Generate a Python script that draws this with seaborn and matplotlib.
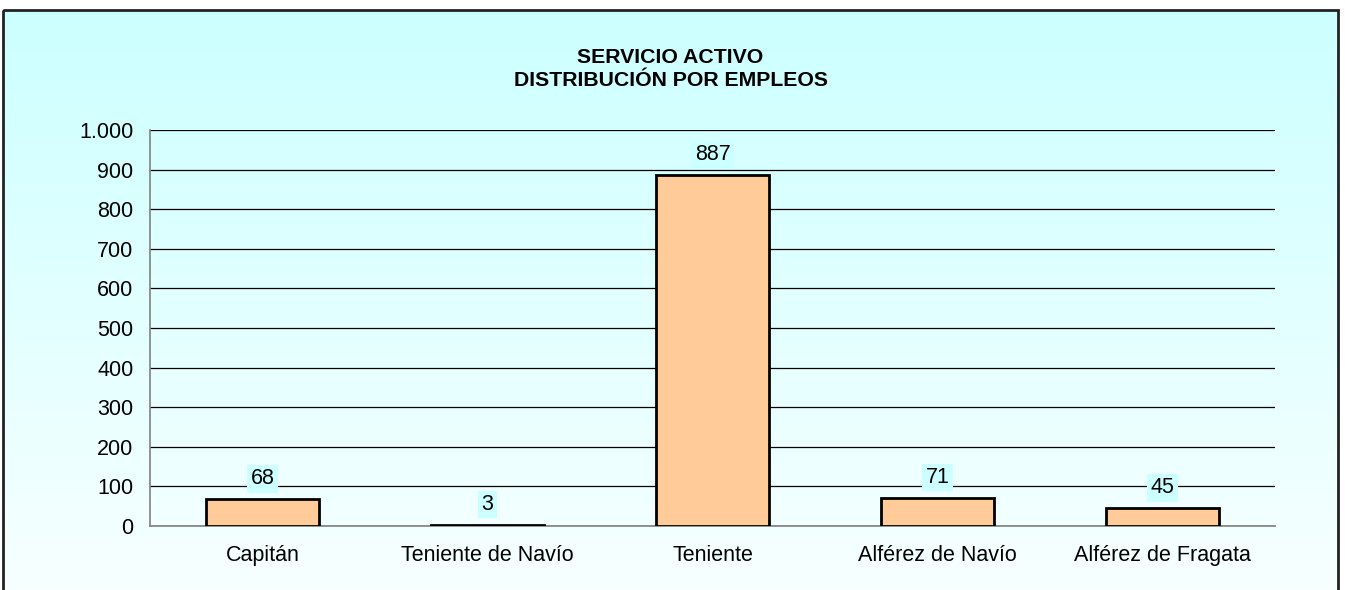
import numpy as np
import pandas as pd
import matplotlib
matplotlib.use("Agg")
import matplotlib.pyplot as plt
from matplotlib.colors import LinearSegmentedColormap
from matplotlib.patches import Rectangle
import seaborn as sns

empleos = ["Capitán", "Teniente de Navío", "Teniente", "Alférez de Navío", "Alférez de Fragata"]
efectivos = [68, 3, 887, 71, 45]
yticks = [0, 100, 200, 300, 400, 500, 600, 700, 800, 900, 1000]
ytick_labels = ["0", "100", "200", "300", "400", "500", "600", "700", "800", "900", "1.000"]

df = pd.DataFrame({"empleo": empleos, "efectivos": efectivos})

sns.set_style("white")
plt.rcParams["font.family"] = ["Liberation Sans", "DejaVu Sans"]
plt.rcParams["text.color"] = "black"
plt.rcParams["xtick.color"] = "black"
plt.rcParams["ytick.color"] = "black"

fig = plt.figure(figsize=(13.45, 5.90), dpi=100)

# gradient background inside the chart border
bg = fig.add_axes([0, 0, 1, 1])
bg.set_xlim(0, 1345)
bg.set_ylim(590, 0)
bg.axis("off")
cmap = LinearSegmentedColormap.from_list("bg", ["#CCFFFF", "#F8FFFF"])
grad = np.linspace(0, 1, 256).reshape(-1, 1)
bg.imshow(grad, cmap=cmap, aspect="auto", extent=[3, 1338, 600, 10], zorder=0)
bg.add_patch(Rectangle((3, 10), 1335, 600, fill=False, edgecolor="#222222", lw=2, zorder=1))

ax = fig.add_axes([150 / 1345, 64 / 590, 1125 / 1345, 396 / 590])
ax.set_facecolor("none")
sns.barplot(data=df, x="empleo", y="efectivos", color="#FFCC99", edgecolor="black",
            linewidth=2, width=0.5, saturation=1, ax=ax, zorder=3)

ax.set_ylim(0, 1000)
ax.set_xlim(-0.5, 4.5)
ax.set_yticks(yticks)
ax.set_yticklabels(ytick_labels, fontsize=15.5)
ax.yaxis.grid(True, color="black", lw=0.9)
ax.set_axisbelow(True)
ax.tick_params(axis="y", length=7, width=1, color="#808080", pad=5, labelcolor="black")
ax.tick_params(axis="x", which="major", length=0, pad=14, labelsize=15.5, labelcolor="black")
ax.set_xticks(np.arange(-0.5, 5, 1), minor=True)
ax.tick_params(axis="x", which="minor", length=6, width=1, color="#808080")
for s in ["top", "right"]:
    ax.spines[s].set_visible(False)
for s in ["left", "bottom"]:
    ax.spines[s].set_color("#808080")
    ax.spines[s].set_linewidth(1.2)
ax.set_xlabel("")
ax.set_ylabel("")

for i, v in enumerate(efectivos):
    ax.annotate(str(v), (i, v), xytext=(0, 7), textcoords="offset points",
                ha="center", va="bottom", fontsize=15.5, color="black", zorder=5,
                bbox=dict(boxstyle="square,pad=0.15", fc="#CCFFFF", ec="none"))

fig.text(1341 / 2 / 1345, 1 - 69 / 590, "SERVICIO ACTIVO\nDISTRIBUCIÓN POR EMPLEOS",
         ha="center", va="center", fontsize=15.3, fontweight="bold", color="black",
         linespacing=1.3)

fig.savefig("out.png", dpi=100)
